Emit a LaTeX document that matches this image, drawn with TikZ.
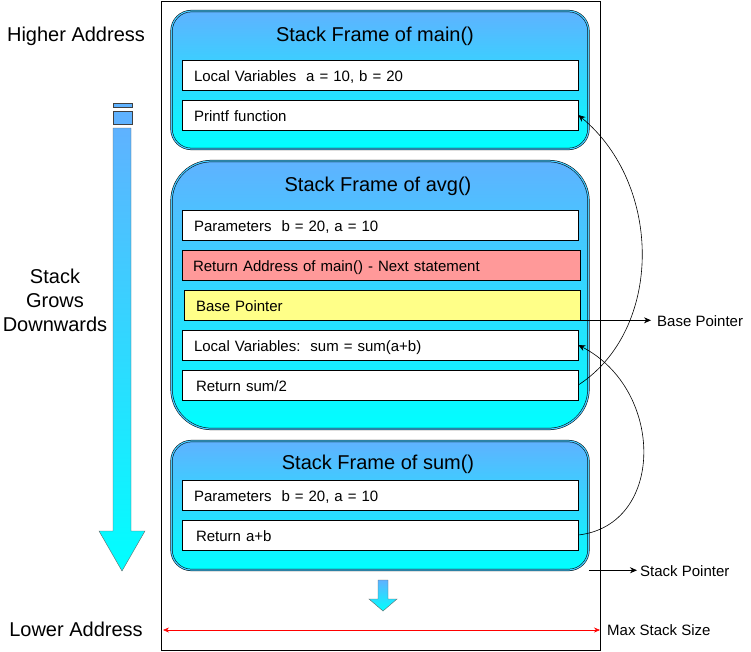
\documentclass[tikz,border=0pt]{standalone}
\usepackage{fontspec}
\setmainfont{Liberation Sans}
\usetikzlibrary{arrows.meta}
\definecolor{frametop}{HTML}{5FB2FF}
\definecolor{framebot}{HTML}{00FFFF}
\definecolor{retred}{HTML}{FF9999}
\definecolor{bpyellow}{HTML}{FFFF88}
\begin{document}
\begin{tikzpicture}[x=1pt, y=-1pt,
    frame/.style={draw, double=frametop!70!framebot, double distance=1.2pt, line width=0.5pt,
      top color=frametop, bottom color=framebot, minimum width=417, inner sep=0},
    row/.style={draw, fill=white, line width=0.6pt, minimum height=30, text width=372,
      text height=12, text depth=0, inner xsep=12, inner ysep=0, align=left,
      font=\fontsize{15}{18}\selectfont},
    ttl/.style={inner sep=0, font=\fontsize{20}{24}\selectfont},
    lbl/.style={inner sep=0, font=\fontsize{15}{18}\selectfont},
    side/.style={inner sep=0, align=center, font=\fontsize{20}{24}\selectfont}]
  \useasboundingbox (0,0) rectangle (751,651);
  % stack area
  \node[draw, line width=0.8pt, minimum width=439, minimum height=649, inner sep=0] (stack) at (380.5,325.5) {};
  % frame of main()
  \node[frame, rounded corners=20, minimum height=138] (mainframe) at (380,80) {};
  \node[ttl] (mainttl) at (375,36) {Stack Frame of main()};
  \node[row] (mainvars) at (380,75) {Local Variables\ \ a = 10, b = 20};
  \node[row] (printf) at (380,115) {Printf function};
  % frame of avg()
  \node[frame, rounded corners=40, minimum height=268] (avgframe) at (380,295) {};
  \node[ttl] (avgttl) at (378,186) {Stack Frame of avg()};
  \node[row] (avgparams) at (380,225) {Parameters\ \ b = 20, a = 10};
  \node[row, fill=retred, text width=376, inner xsep=11] (retaddr) at (381,265) {Return Address of main() - Next statement};
  \node[row, fill=bpyellow] (bp) at (382,305) {Base Pointer};
  \node[row] (avgvars) at (380,345) {Local Variables:\ \ sum = sum(a+b)};
  \node[row, inner xsep=14, text width=368] (retsum) at (380,385) {Return sum/2};
  % frame of sum()
  \node[frame, rounded corners=20, minimum height=129] (sumframe) at (380,505.5) {};
  \node[ttl] (sumttl) at (378,464) {Stack Frame of sum()};
  \node[row] (sumparams) at (380,495) {Parameters\ \ b = 20, a = 10};
  \node[row, inner xsep=14, text width=368] (retab) at (380,535) {Return a+b};
  % growth arrows
  \filldraw[fill=frametop, draw=black!75] (113,103) rectangle (132,107);
  \filldraw[fill=frametop, draw=black!75] (113,111) rectangle (132,124);
  \shade[top color=frametop, bottom color=framebot, draw=black!60]
    (113,128) -- (131,128) -- (131,531) -- (145,531) -- (122,571) -- (99,531) -- (113,531) -- cycle;
  \shade[top color=frametop, bottom color=framebot, draw=black!60]
    (378,580) -- (388,580) -- (388,599) -- (397,599) -- (383,611) -- (369,599) -- (378,599) -- cycle;
  % side labels
  \node[side] (high) at (76,36) {Higher Address};
  \node[side] (grows) at (55,300) {Stack\\Grows\\Downwards};
  \node[side] (low) at (76,629) {Lower Address};
  \node[lbl, anchor=west] (bplbl) at (657,321) {Base Pointer};
  \node[lbl, anchor=west] (splbl) at (640,571) {Stack Pointer};
  \node[lbl, anchor=west] (msslbl) at (607,630) {Max Stack Size};
  \coordinate (mssleft) at (163,630);
  % pointers
  \draw[-{Stealth[length=7pt,width=6pt]}, line width=0.6pt] (bp.south east) -- ([xshift=-6pt]bplbl.west |- bp.south east);
  \draw[-{Stealth[length=7pt,width=6pt]}, line width=0.6pt] (sumframe.south east) -- ([xshift=-3pt]splbl.west |- sumframe.south east);
  \draw[{Stealth[length=6pt,width=5pt]}-{Stealth[length=6pt,width=5pt]}, red, line width=0.6pt] (mssleft) -- ([xshift=-7pt]msslbl.west |- mssleft);
  % return paths
  \draw[-{Stealth[length=7pt,width=6pt]}, line width=0.6pt] (retsum.east) .. controls (663,330) and (663,185) .. (printf.east);
  \draw[-{Stealth[length=7pt,width=6pt]}, line width=0.6pt] (retab.east) .. controls (665,525) and (665,390) .. (avgvars.east);
\end{tikzpicture}
\end{document}
